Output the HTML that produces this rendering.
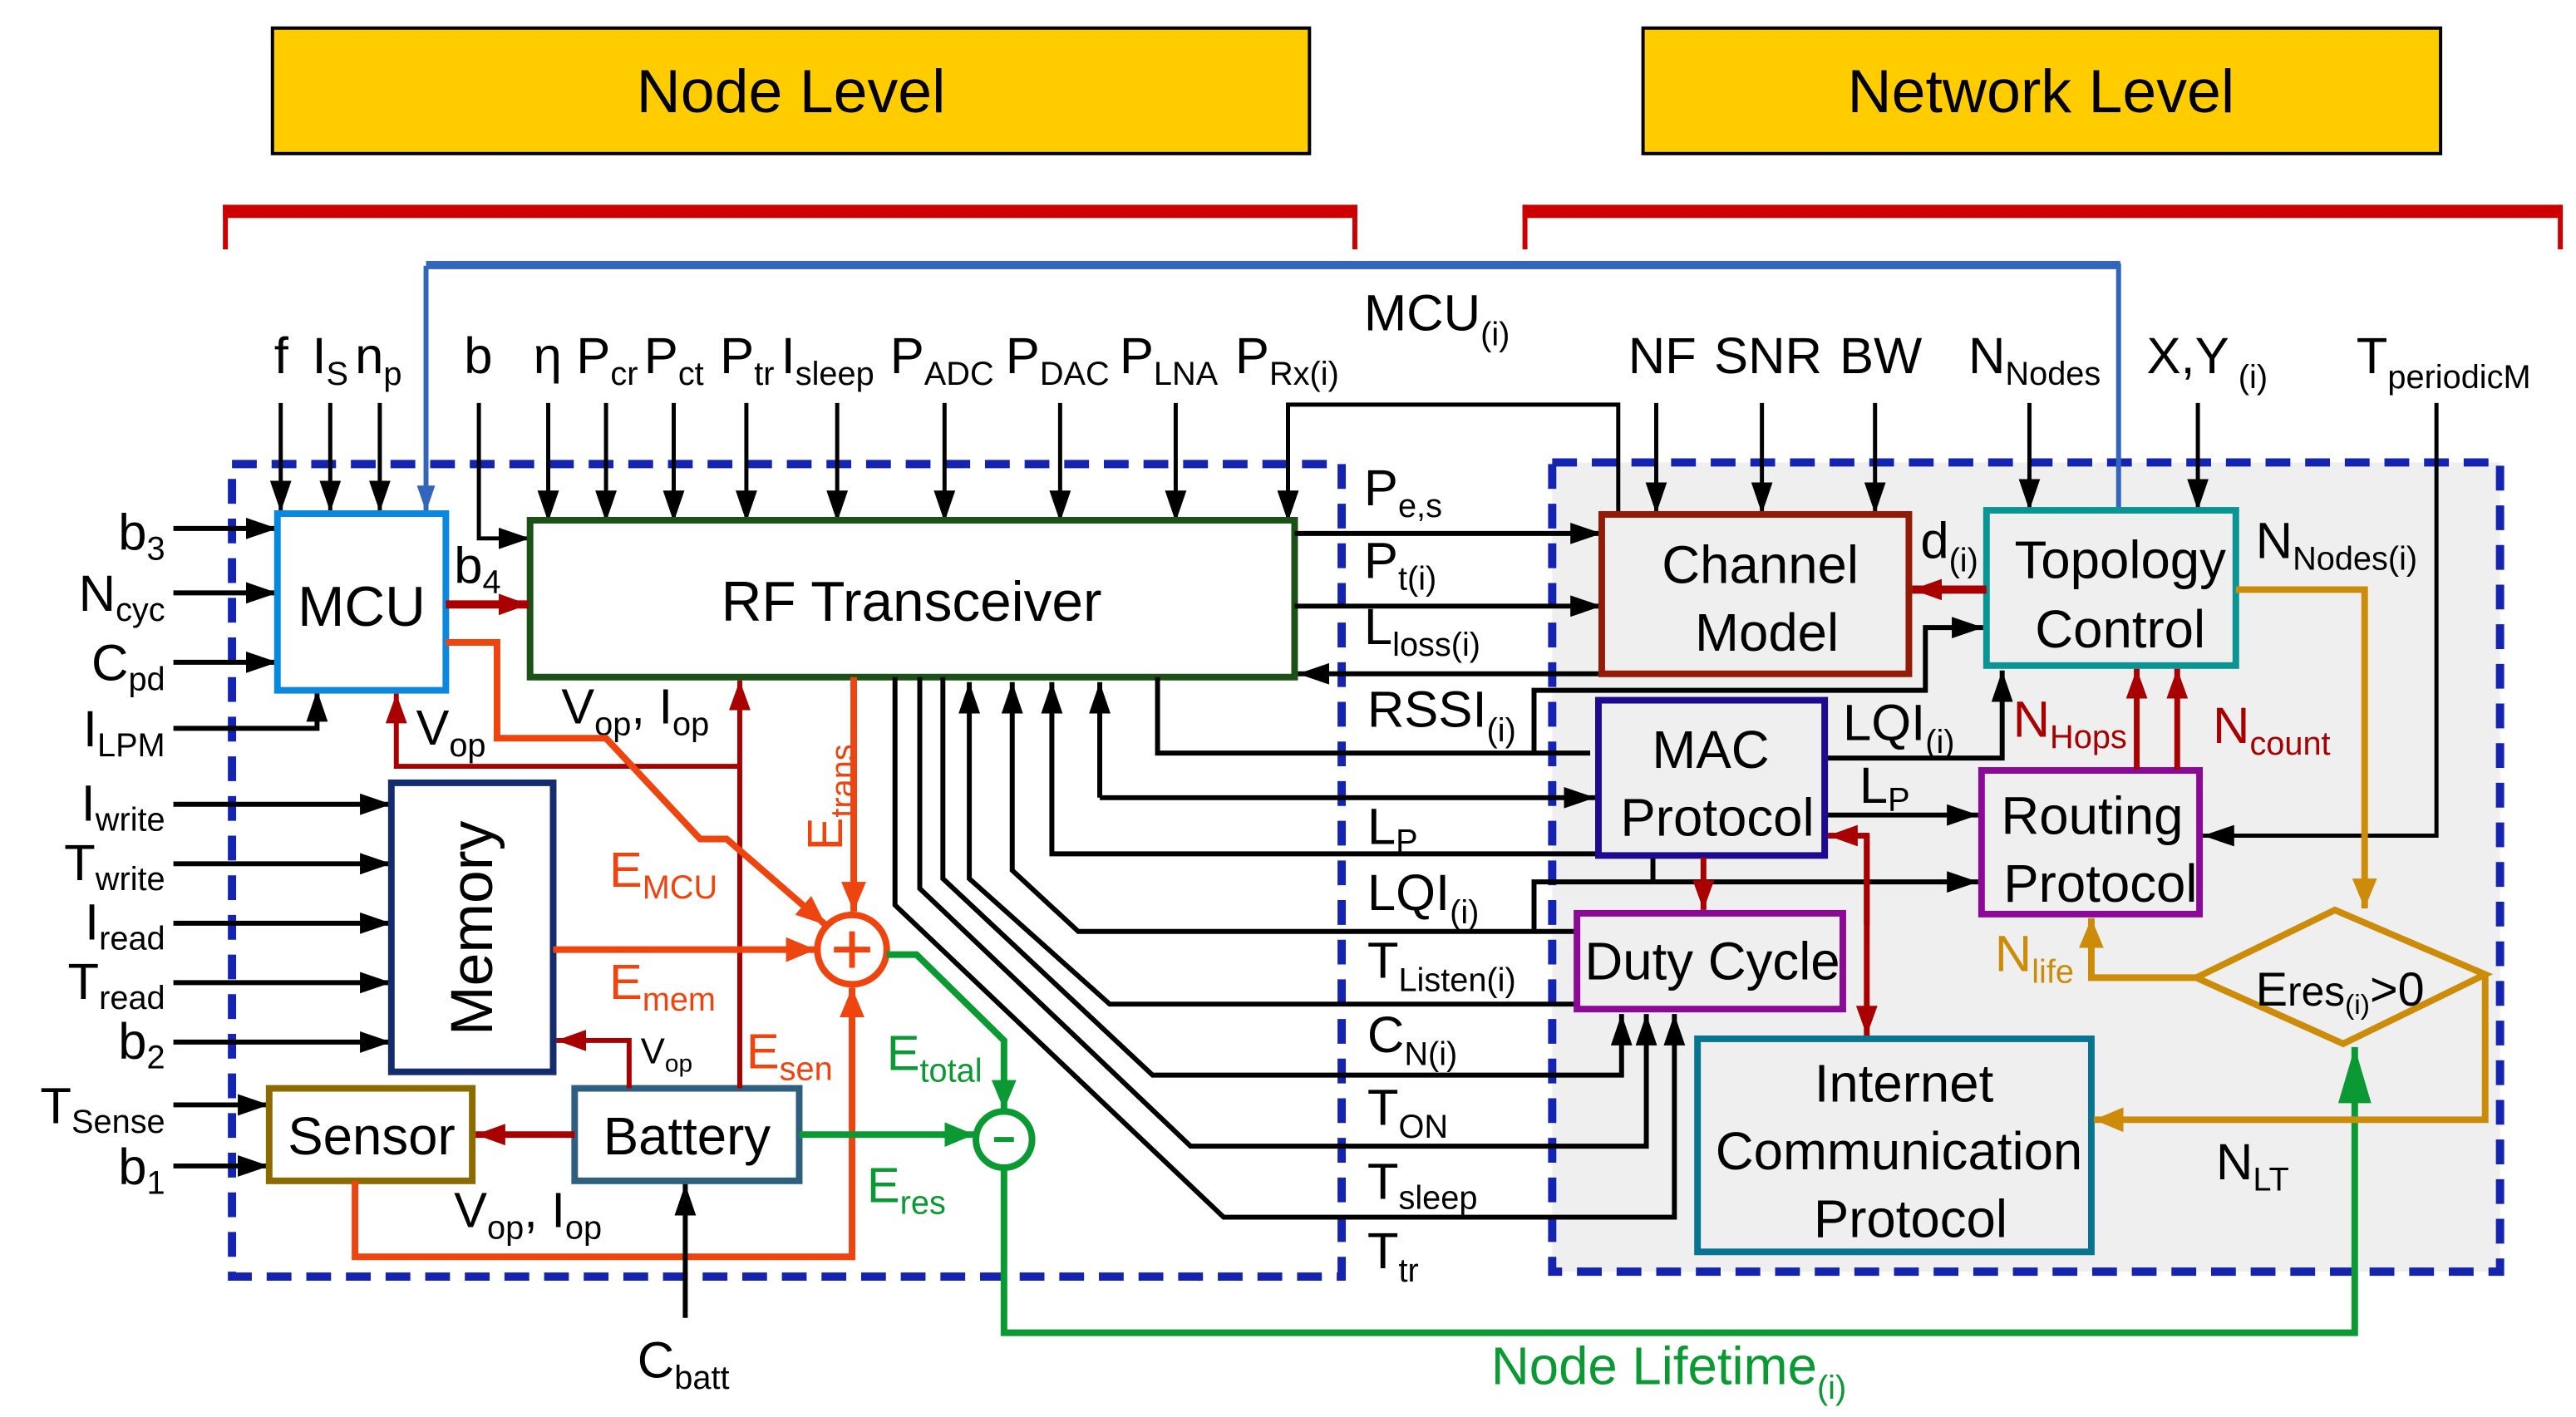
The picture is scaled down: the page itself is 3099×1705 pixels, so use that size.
<!DOCTYPE html>
<html><head><meta charset="utf-8"><style>
html,body{margin:0;padding:0;background:#fff}
svg{display:block}
text{font-family:"Liberation Sans",Arial,sans-serif;fill:#000}
</style></head><body>
<svg width="3099" height="1705" viewBox="0 0 1560 858" preserveAspectRatio="none" xmlns="http://www.w3.org/2000/svg">
<defs>
<marker id="k" markerWidth="19" markerHeight="13" refX="19" refY="6.5" orient="auto" markerUnits="userSpaceOnUse"><path d="M0,0L19,6.5L0,13z" fill="#000"/></marker>
<marker id="r" markerWidth="18" markerHeight="13" refX="18" refY="6.5" orient="auto" markerUnits="userSpaceOnUse"><path d="M0,0L18,6.5L0,13z" fill="#A80000"/></marker>
<marker id="o" markerWidth="18" markerHeight="15" refX="18" refY="7.5" orient="auto" markerUnits="userSpaceOnUse"><path d="M0,0L18,7.5L0,15z" fill="#EE4410"/></marker>
<marker id="g" markerWidth="18" markerHeight="15" refX="18" refY="7.5" orient="auto" markerUnits="userSpaceOnUse"><path d="M0,0L18,7.5L0,15z" fill="#0A9933"/></marker>
<marker id="gb" markerWidth="34" markerHeight="20" refX="34" refY="10" orient="auto" markerUnits="userSpaceOnUse"><path d="M0,0L34,10L0,20z" fill="#0A9933"/></marker>
<marker id="y" markerWidth="18" markerHeight="15" refX="18" refY="7.5" orient="auto" markerUnits="userSpaceOnUse"><path d="M0,0L18,7.5L0,15z" fill="#CC8C0A"/></marker>
<marker id="b" markerWidth="16" markerHeight="11" refX="16" refY="5.5" orient="auto" markerUnits="userSpaceOnUse"><path d="M0,0L16,5.5L0,11z" fill="#3366BB"/></marker>
</defs>

<rect x="165" y="17" width="628" height="76" fill="#FFCC00" stroke="#000" stroke-width="2"/>
<text x="479" y="68" font-size="37" text-anchor="middle">Node Level</text>
<rect x="995" y="17" width="483" height="76" fill="#FFCC00" stroke="#000" stroke-width="2"/>
<text x="1236" y="68" font-size="37" text-anchor="middle">Network Level</text>

<g fill="#CC0000">
<rect x="135" y="124" width="687" height="8"/><rect x="135" y="124" width="3" height="27"/><rect x="819" y="124" width="3" height="27"/>
<rect x="922" y="124" width="630" height="8"/><rect x="922" y="124" width="3" height="27"/><rect x="1549" y="124" width="3" height="27"/>
</g>

<rect x="940" y="280" width="574" height="490" fill="#EFEFEF" stroke="#1424B0" stroke-width="5" stroke-dasharray="15 9"/>
<rect x="140.5" y="281" width="672" height="492" fill="none" stroke="#1424B0" stroke-width="5" stroke-dasharray="15 9"/>

<path d="M258,161 H1283 V309" fill="none" stroke="#3366BB" stroke-width="3"/>
<rect x="258" y="158" width="1026" height="5" fill="#3366BB"/>
<path d="M258,161 V310" fill="none" stroke="#3366BB" stroke-width="3" marker-end="url(#b)"/>
<text x="826" y="200" font-size="31">MCU<tspan font-size="20" dy="9">(i)</tspan></text>

<g stroke="#000" stroke-width="2.5" fill="none" marker-end="url(#k)">
<path d="M170,244V310"/><path d="M200,244V310"/><path d="M230,244V310"/>
<path d="M290,244V326H321"/>
<path d="M332,244V316"/><path d="M367,244V316"/><path d="M408,244V316"/><path d="M452,244V316"/><path d="M507,244V316"/><path d="M572,244V316"/><path d="M642,244V316"/><path d="M712,244V316"/>
<path d="M980,311V245H780V316"/>
<path d="M1003,244V311"/><path d="M1067,244V311"/><path d="M1135.5,244V311"/><path d="M1229,244V309"/><path d="M1331,244V309"/>
<path d="M1475.5,244V506H1334"/>
</g>
<g font-size="31">
<text x="166" y="226">f</text>
<text x="189" y="226">I<tspan font-size="20" dy="7">S</tspan></text>
<text x="215" y="226">n<tspan font-size="20" dy="7">p</tspan></text>
<text x="281" y="226">b</text>
<text x="323" y="226">η</text>
<text x="349" y="226">P<tspan font-size="20" dy="7">cr</tspan></text>
<text x="390" y="226">P<tspan font-size="20" dy="7">ct</tspan></text>
<text x="436" y="226">P<tspan font-size="20" dy="7">tr</tspan></text>
<text x="473" y="226">I<tspan font-size="20" dy="7">sleep</tspan></text>
<text x="539" y="226">P<tspan font-size="20" dy="7">ADC</tspan></text>
<text x="609" y="226">P<tspan font-size="20" dy="7">DAC</tspan></text>
<text x="678" y="226">P<tspan font-size="20" dy="7">LNA</tspan></text>
<text x="748" y="226">P<tspan font-size="20" dy="7">Rx(i)</tspan></text>
<text x="986" y="226">NF</text>
<text x="1038" y="226">SNR</text>
<text x="1114" y="226">BW</text>
<text x="1192" y="226">N<tspan font-size="20" dy="7">Nodes</tspan></text>
<text x="1300" y="226">X,Y<tspan font-size="20" dy="9"> (i)</tspan></text>
<text x="1427" y="226">T<tspan font-size="20" dy="9">periodicM</tspan></text>
</g>

<g stroke="#000" stroke-width="3" fill="none" marker-end="url(#k)">
<path d="M105,320H168"/><path d="M105,359H168"/><path d="M105,401H168"/><path d="M105,441H192V418"/>
<path d="M105,487H237"/><path d="M105,523H237"/><path d="M105,559H237"/><path d="M105,595H237"/><path d="M105,631H237"/>
<path d="M105,669H163"/><path d="M105,706H163"/>
</g>
<g font-size="31" text-anchor="end">
<text x="100" y="333">b<tspan font-size="20" dy="6">3</tspan></text>
<text x="100" y="370">N<tspan font-size="20" dy="6">cyc</tspan></text>
<text x="100" y="412">C<tspan font-size="20" dy="6">pd</tspan></text>
<text x="100" y="452">I<tspan font-size="20" dy="6">LPM</tspan></text>
<text x="100" y="497">I<tspan font-size="20" dy="6">write</tspan></text>
<text x="100" y="533">T<tspan font-size="20" dy="6">write</tspan></text>
<text x="100" y="569">I<tspan font-size="20" dy="6">read</tspan></text>
<text x="100" y="605">T<tspan font-size="20" dy="6">read</tspan></text>
<text x="100" y="641">b<tspan font-size="20" dy="6">2</tspan></text>
<text x="100" y="680">T<tspan font-size="20" dy="6">Sense</tspan></text>
<text x="100" y="717">b<tspan font-size="20" dy="6">1</tspan></text>
</g>

<rect x="168" y="311" width="102" height="107" fill="#fff" stroke="#0A88DD" stroke-width="4"/>
<text x="219" y="379" font-size="34" text-anchor="middle">MCU</text>
<rect x="321" y="315" width="463" height="95" fill="#fff" stroke="#1B5016" stroke-width="4"/>
<text x="552" y="376" font-size="34" text-anchor="middle">RF Transceiver</text>
<rect x="237" y="474" width="98" height="175" fill="#fff" stroke="#142C6E" stroke-width="4"/>
<text transform="translate(298,562) rotate(-90)" font-size="36" text-anchor="middle">Memory</text>
<rect x="163" y="659" width="123" height="56" fill="#fff" stroke="#8B6A00" stroke-width="4"/>
<text x="225" y="699" font-size="32" text-anchor="middle">Sensor</text>
<rect x="348" y="659" width="136" height="56" fill="#fff" stroke="#2F5F7F" stroke-width="4"/>
<text x="416" y="699" font-size="32" text-anchor="middle">Battery</text>

<g stroke="#A80000" stroke-width="3" fill="none" marker-end="url(#r)">
<path d="M448,659V412"/>
<path d="M448,464H240V420"/>
<path d="M381,659V630H337"/>
<path d="M348,687H288" stroke-width="4"/>
<path d="M270,366H320" stroke-width="5"/>
</g>
<text x="275" y="353" font-size="31">b<tspan font-size="20" dy="6">4</tspan></text>
<text x="252" y="451" font-size="30">V<tspan font-size="20" dy="7">op</tspan></text>
<text x="340" y="438" font-size="30">V<tspan font-size="20" dy="7">op</tspan><tspan dy="-7">, I</tspan><tspan font-size="20" dy="7">op</tspan></text>
<text x="388" y="644" font-size="22">V<tspan font-size="15" dy="5">op</tspan></text>
<text x="275" y="743" font-size="30">V<tspan font-size="20" dy="7">op</tspan><tspan dy="-7">,  I</tspan><tspan font-size="20" dy="7">op</tspan></text>

<g stroke="#EE4410" stroke-width="4" fill="none" marker-end="url(#o)">
<path d="M270,389H301V447H367L424,508H440L500,560"/>
<path d="M517,410V552"/>
<path d="M335,575H494"/>
<path d="M215,715V761H516V598"/>
</g>
<circle cx="516" cy="575" r="21" fill="#fff" stroke="#EE4410" stroke-width="4"/>
<path d="M505,575H527M516,564V586" stroke="#EE4410" stroke-width="3.5"/>
<g font-size="30">
<text transform="translate(510,515) rotate(-90)" style="fill:#EE4410">E<tspan font-size="20" dy="7">trans</tspan></text>
<text x="369" y="537" style="fill:#EE4410">E<tspan font-size="20" dy="7">MCU</tspan></text>
<text x="369" y="605" style="fill:#EE4410">E<tspan font-size="20" dy="7">mem</tspan></text>
<text x="452" y="647" style="fill:#EE4410">E<tspan font-size="20" dy="7">sen</tspan></text>
</g>

<g stroke="#0A9933" stroke-width="4" fill="none">
<path d="M537,578H555L608,630V672" marker-end="url(#g)"/>
<path d="M484,687H590" marker-end="url(#g)"/>
<path d="M608,707V807H1426V634" marker-end="url(#gb)"/>
</g>
<circle cx="608" cy="690" r="17" fill="#fff" stroke="#0A9933" stroke-width="4"/>
<path d="M602,690H614" stroke="#0A9933" stroke-width="3"/>
<text x="537" y="648" font-size="30" style="fill:#0A9933">E<tspan font-size="20" dy="7">total</tspan></text>
<text x="525" y="728" font-size="30" style="fill:#0A9933">E<tspan font-size="20" dy="7">res</tspan></text>
<text x="903" y="838" font-size="32" style="fill:#0A9933">Node Lifetime<tspan font-size="20" dy="9">(i)</tspan></text>

<path d="M415,798V717" stroke="#000" stroke-width="3" fill="none" marker-end="url(#k)"/>
<text x="386" y="834" font-size="31">C<tspan font-size="20" dy="7">batt</tspan></text>

<g stroke="#000" stroke-width="3" fill="none">
<path d="M784,323H970" marker-end="url(#k)"/>
<path d="M784,367H970" marker-end="url(#k)"/>
<path d="M970,408H786" marker-end="url(#k)"/>
<path d="M701,410V456H963"/>
<path d="M929,456V418H1166V380H1201" marker-end="url(#k)"/>
<path d="M666,483H966" marker-end="url(#k)"/>
<path d="M666,483V413" marker-end="url(#k)"/>
<path d="M968,517H637V413" marker-end="url(#k)"/>
<path d="M955,564H653L613,527V413" marker-end="url(#k)"/>
<path d="M955,608H672L587,532V413" marker-end="url(#k)"/>
<path d="M929,564V534H1198" marker-end="url(#k)"/>
<path d="M1001,519V534"/>
<path d="M571,410V532L698,651H982V614" marker-end="url(#k)"/>
<path d="M557,410V538L721,694H997V614" marker-end="url(#k)"/>
<path d="M542,410V548L741,737H1014V614" marker-end="url(#k)"/>
<path d="M1105,459H1212.5V406" marker-end="url(#k)"/>
<path d="M1105,493.5H1198" marker-end="url(#k)"/>
</g>
<g font-size="31">
<text x="826" y="306">P<tspan font-size="20" dy="7">e,s</tspan></text>
<text x="826" y="350">P<tspan font-size="20" dy="7">t(i)</tspan></text>
<text x="826" y="390">L<tspan font-size="20" dy="7">loss(i)</tspan></text>
<text x="828" y="440">RSSI<tspan font-size="20" dy="9">(i)</tspan></text>
<text x="828" y="511">L<tspan font-size="20" dy="5">P</tspan></text>
<text x="828" y="551">LQI<tspan font-size="20" dy="8">(i)</tspan></text>
<text x="828" y="592">T<tspan font-size="20" dy="8">Listen(i)</tspan></text>
<text x="828" y="637">C<tspan font-size="20" dy="8">N(i)</tspan></text>
<text x="828" y="681">T<tspan font-size="20" dy="8">ON</tspan></text>
<text x="828" y="726">T<tspan font-size="20" dy="6">sleep</tspan></text>
<text x="828" y="768">T<tspan font-size="20" dy="8">tr</tspan></text>
</g>

<rect x="970" y="311.5" width="186" height="96.5" fill="#EFEFEF" stroke="#921A06" stroke-width="4"/>
<text x="1066" y="353" font-size="32" text-anchor="middle">Channel</text>
<text x="1070" y="394" font-size="32" text-anchor="middle">Model</text>
<rect x="1203" y="309" width="151" height="94" fill="#EFEFEF" stroke="#0A9494" stroke-width="4"/>
<text x="1284" y="350" font-size="32" text-anchor="middle">Topology</text>
<text x="1284" y="392" font-size="32" text-anchor="middle">Control</text>
<rect x="968" y="424" width="137" height="94" fill="#EFEFEF" stroke="#1E0A90" stroke-width="4"/>
<text x="1036" y="465" font-size="32" text-anchor="middle">MAC</text>
<text x="1040" y="506" font-size="32" text-anchor="middle">Protocol</text>
<rect x="1200" y="466.5" width="132" height="87" fill="#EFEFEF" stroke="#8A0A96" stroke-width="4"/>
<text x="1267" y="505" font-size="32" text-anchor="middle">Routing</text>
<text x="1272" y="546" font-size="32" text-anchor="middle">Protocol</text>
<rect x="955" y="553" width="161" height="58" fill="#EFEFEF" stroke="#8A0A96" stroke-width="4"/>
<text x="1037" y="593" font-size="32" text-anchor="middle">Duty Cycle</text>
<rect x="1028" y="629" width="238.5" height="129" fill="#EFEFEF" stroke="#087490" stroke-width="4"/>
<text x="1153" y="667" font-size="32" text-anchor="middle">Internet</text>
<text x="1150" y="708" font-size="32" text-anchor="middle">Communication</text>
<text x="1157" y="749" font-size="32" text-anchor="middle">Protocol</text>
<polygon points="1330,592 1414,551 1505,590 1419,632" fill="#EFEFEF" stroke="#CC8C0A" stroke-width="4"/>
<text x="1366" y="609" font-size="29">E<tspan font-size="25">res</tspan><tspan font-size="17" dy="5">(i)</tspan><tspan dy="-5">&gt;0</tspan></text>

<g stroke="#A80000" stroke-width="3.5" fill="none" marker-end="url(#r)">
<path d="M1203,357H1158" stroke-width="5"/>
<path d="M1294,466V405"/>
<path d="M1318.5,466V405"/>
<path d="M1031.6,519V551"/>
<path d="M1130.5,560V506H1107"/>
<path d="M1130.5,506V627"/>
</g>
<g stroke="#CC8C0A" stroke-width="4" fill="none" marker-end="url(#y)">
<path d="M1354,357H1432V550"/>
<path d="M1330,592H1266.5V556"/>
<path d="M1505,590V678H1268"/>
</g>
<text x="1163" y="338" font-size="31">d<tspan font-size="20" dy="8">(i)</tspan></text>
<text x="1366" y="338" font-size="31">N<tspan font-size="20" dy="7">Nodes(i)</tspan></text>
<text x="1116" y="448" font-size="31">LQI<tspan font-size="20" dy="8">(i)</tspan></text>
<text x="1126" y="486" font-size="31">L<tspan font-size="20" dy="5">P</tspan></text>
<text x="1219" y="446" font-size="31" style="fill:#A80000">N<tspan font-size="20" dy="7" style="fill:#A80000">Hops</tspan></text>
<text x="1340" y="450" font-size="31" style="fill:#A80000">N<tspan font-size="20" dy="7" style="fill:#A80000">count</tspan></text>
<text x="1208" y="588" font-size="31" style="fill:#CC8C0A">N<tspan font-size="20" dy="7" style="fill:#CC8C0A">life</tspan></text>
<text x="1342" y="714" font-size="31">N<tspan font-size="20" dy="7">LT</tspan></text>
</svg>
</body></html>
